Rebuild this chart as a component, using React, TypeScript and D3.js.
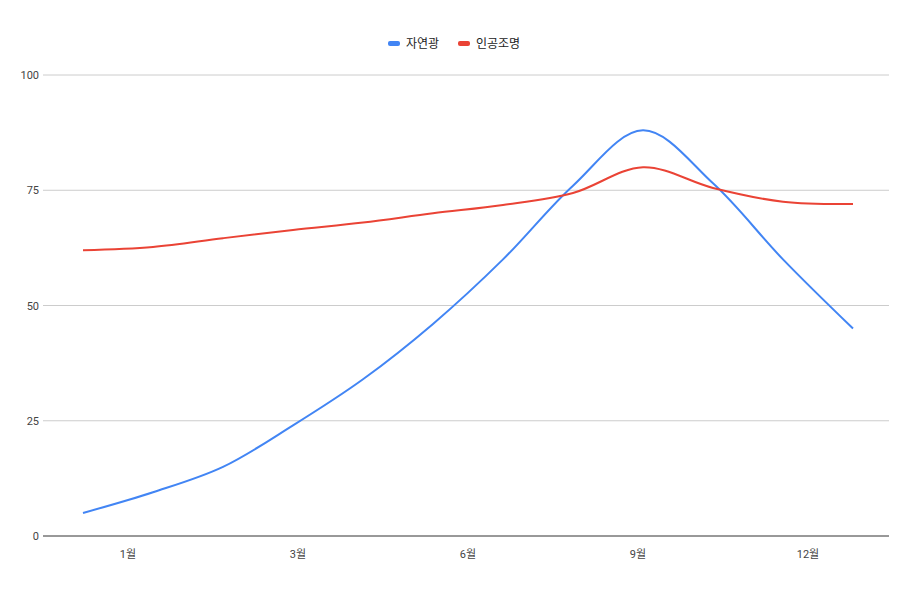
import React from 'react';
import * as d3 from 'd3';

const months = ['1', '2', '3', '4', '5', '6', '7', '8', '9', '10', '11', '12'];
const natural = [5, 9.5, 15, 24, 34, 46, 60, 76, 88, 76.5, 60, 45];
const artificial = [62, 62.7, 64.6, 66.4, 68, 70, 71.8, 74.4, 80, 75.5, 72.5, 72];
const tickLabels = ['1월', '3월', '6월', '9월', '12월'];
const yTicks = [0, 25, 50, 75, 100];

const series = [
  { name: '자연광', values: natural, color: '#4285f4' },
  { name: '인공조명', values: artificial, color: '#ea4335' },
];

export default function App() {
  const width = 913, height = 597;
  const left = 43, right = 889, top = 75, bottom = 536;
  const x = d3.scalePoint<string>().domain(months).range([83, 853]);
  const xl = d3.scaleBand<string>().domain(tickLabels).range([left, 893]);
  const y = d3.scaleLinear().domain([0, 100]).range([bottom, top]);
  const line = (vals: number[]) =>
    d3.line<number>().x((_, i) => x(months[i])!).y(d => y(d)).curve(d3.curveCatmullRom)(vals)!;
  const font = 'Roboto, "Noto Sans CJK KR", sans-serif';

  return (
    <svg width={width} height={height} style={{ position: 'absolute', left: 0, top: 0, background: '#fff' }} fontFamily={font}>
      {yTicks.map(t => (
        <g key={t}>
          <line x1={left} x2={right} y1={y(t)} y2={y(t)} stroke={t === 0 ? '#333' : '#ccc'} strokeWidth={1} />
          <text x={left - 4} y={y(t) + 4} textAnchor="end" fontSize={11} fill="#444">{t}</text>
        </g>
      ))}
      {tickLabels.map(l => (
        <text key={l} x={xl(l)! + xl.bandwidth() / 2} y={558} textAnchor="middle" fontSize={11} fill="#444">{l}</text>
      ))}
      {series.map(s => (
        <path key={s.name} d={line(s.values)} fill="none" stroke={s.color} strokeWidth={2} />
      ))}
      <g transform="translate(388,44)">
        <rect x={0} y={-3} width={12} height={5} rx={2} fill="#4285f4" />
        <text x={18} y={4} fontSize={12} fill="#222">자연광</text>
        <rect x={70} y={-3} width={12} height={5} rx={2} fill="#ea4335" />
        <text x={88} y={4} fontSize={12} fill="#222">인공조명</text>
      </g>
    </svg>
  );
}
